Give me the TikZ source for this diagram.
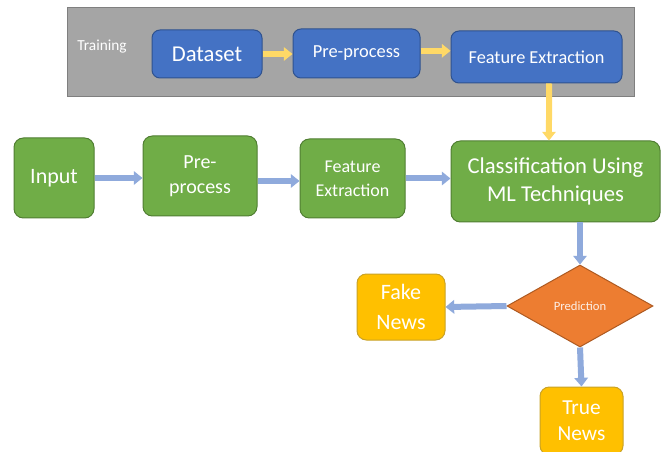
\documentclass[tikz,border=0pt]{standalone}
\usepackage{fontspec}
\setmainfont{Carlito}
\usetikzlibrary{shapes.geometric, arrows.meta}
\definecolor{boxblue}{HTML}{4472C4}
\definecolor{blueedge}{HTML}{2F528F}
\definecolor{boxgreen}{HTML}{70AD47}
\definecolor{greenedge}{HTML}{507E32}
\definecolor{boxgold}{HTML}{FFC000}
\definecolor{goldedge}{HTML}{C9A227}
\definecolor{boxorange}{HTML}{ED7D31}
\definecolor{orangeedge}{HTML}{AE5A21}
\definecolor{panelgray}{HTML}{A5A5A5}
\definecolor{paneledge}{HTML}{7F7F7F}
\definecolor{goldarrow}{HTML}{FFD966}
\definecolor{bluearrow}{HTML}{8FAADC}

\begin{document}
\begin{tikzpicture}[x=0.75pt, y=-0.75pt,
    bluebox/.style={rectangle, rounded corners=6pt, draw=blueedge, line width=0.75pt, fill=boxblue, text=white, align=center, inner sep=0pt},
    greenbox/.style={rectangle, rounded corners=7pt, draw=greenedge, line width=0.75pt, fill=boxgreen, text=white, align=center, inner sep=0pt},
    goldbox/.style={rectangle, rounded corners=7pt, draw=goldedge, line width=0.75pt, fill=boxgold, text=white, align=center, inner sep=0pt},
    yellowflow/.style={goldarrow, line width=4.5pt, -{Triangle[length=6.5pt, width=10pt]}},
    blueflow/.style={bluearrow, line width=4.5pt, -{Triangle[length=6.5pt, width=10pt]}}]
    \useasboundingbox (0,0) rectangle (663,452);
    \fill[white] (0,0) rectangle (663,452);

    \draw[fill=panelgray, draw=paneledge, line width=0.75pt] (67,8) rectangle (634,97);
    \node (training) [text=white, font=\fontsize{11.5}{13}\selectfont] at (102,47) {Training};
    \node (dataset) [bluebox, minimum width=82.5pt, minimum height=36pt, font=\fontsize{17}{20}\selectfont] at (207,54) {Dataset};
    \node (preT) [bluebox, minimum width=95.25pt, minimum height=36.75pt, font=\fontsize{13.8}{16}\selectfont] at (356.5,53.5) {Pre-process};
    \node (featT) [bluebox, minimum width=128.25pt, minimum height=39pt, font=\fontsize{13.7}{16}\selectfont] at (536.5,57) {Feature Extraction};

    \node (input) [greenbox, minimum width=60pt, minimum height=60pt, font=\fontsize{16.5}{19}\selectfont] at (54,178) {Input};
    \node (pre) [greenbox, minimum width=85.5pt, minimum height=60pt, font=\fontsize{15}{19}\selectfont] at (200,176) {Pre-\\process};
    \node (feat) [greenbox, minimum width=78.75pt, minimum height=59.25pt, font=\fontsize{13.5}{18}\selectfont] at (352.5,178.5) {Feature\\Extraction};
    \node (classify) [greenbox, minimum width=156.75pt, minimum height=60.75pt, font=\fontsize{17}{21}\selectfont] at (555.5,181.5) {Classification Using\\ML Techniques};

    \node (pred) [diamond, fill=boxorange, draw=orangeedge, line width=0.75pt, minimum width=109.5pt, minimum height=61.5pt, inner sep=0pt, text=white!88!boxorange, font=\fontsize{9.5}{11}\selectfont] at (580,306) {Prediction};
    \node (fakeN) [goldbox, minimum width=66pt, minimum height=49.5pt, font=\fontsize{16.5}{22}\selectfont] at (401,307) {Fake\\News};
    \node (trueN) [goldbox, minimum width=62.25pt, minimum height=51pt, font=\fontsize{16}{19.5}\selectfont] at (581.5,421) {True\\News};

    \draw[yellowflow] (dataset.east) -- (dataset.east -| preT.west);
    \draw[yellowflow] ([yshift=2pt]preT.east) -- ([yshift=2pt]preT.east -| featT.west);
    \draw[yellowflow] ([xshift=9.4pt]featT.south) -- ([xshift=-4.9pt]classify.north);

    \draw[blueflow] (input.east) -- (input.east -| pre.west);
    \draw[blueflow] ([yshift=-3.75pt]pre.east) -- ([yshift=-3.75pt]pre.east -| feat.west);
    \draw[blueflow] (feat.east) -- (feat.east -| classify.west);
    \draw[blueflow] (pred.north |- classify.south) -- (pred.north);
    \draw[blueflow] (pred.west) -- (fakeN.east);
    \draw[blueflow] (pred.south) -- (trueN.north);
\end{tikzpicture}
\end{document}
